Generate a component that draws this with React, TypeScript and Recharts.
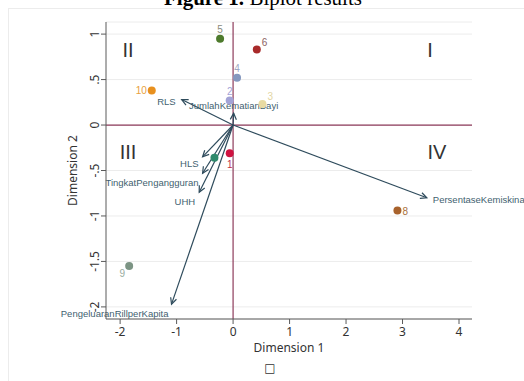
import React from 'react';
import {
  CartesianGrid,
  ReferenceLine,
  Scatter,
  ScatterChart,
  XAxis,
  YAxis,
} from 'recharts';

// observations (row points)
const obsLabels = ['1', '2', '3', '4', '5', '6', '7', '8', '9', '10'];
const obsDim1 = [-0.06, -0.06, 0.52, 0.07, -0.23, 0.42, -0.33, 2.91, -1.84, -1.44];
const obsDim2 = [-0.31, 0.27, 0.23, 0.52, 0.95, 0.83, -0.36, -0.94, -1.55, 0.38];

// variables (arrows from origin)
const varNames = [
  'RLS',
  'JumlahKematianBayi',
  'PersentaseKemiskinan',
  'HLS',
  'TingkatPengangguran',
  'UHH',
  'PengeluaranRillperKapita',
];
const varDim1 = [-0.91, 0.01, 3.43, -0.54, -0.54, -0.6, -1.09];
const varDim2 = [0.28, 0.13, -0.8, -0.35, -0.53, -0.74, -1.97];

const xTicks = [-2, -1, 0, 1, 2, 3, 4];
const yTicks = [-2, -1.5, -1, -0.5, 0, 0.5, 1];

// styling, kept apart from the values
const pointFill = ['#cf1240', '#a3a3d6', '#e8daa2', '#8598bf', '#4d7a2c', '#a82a2a', '#2f8a6c', '#a8622c', '#7c9484', '#e8901e'];
const labelFill = ['#c2304a', '#a3a3d6', '#e3d6a4', '#9ea8c4', '#8a8a7c', '#8c6262', '#2f8a6c', '#a8703c', '#9aaca0', '#e8a040'];
// [dx, dy, anchor] of each point label
const pointLabelPos: [number, number, string][] = [
  [0, 15, 'middle'],
  [0, -5, 'middle'],
  [5, -4, 'start'],
  [0, -6, 'middle'],
  [0, -6, 'middle'],
  [5, -4, 'start'],
  [0, 0, 'none'],
  [5, 4, 'start'],
  [-7, 11, 'middle'],
  [-5, 4, 'end'],
];
// [dx, dy, anchor] of each arrow label
const arrowLabelPos: [number, number, string][] = [
  [-6, 5, 'end'],
  [0, -4, 'middle'],
  [6, 5, 'start'],
  [-4, 10, 'end'],
  [-4, 13, 'end'],
  [-4, 13, 'end'],
  [-3, 13, 'end'],
];

const ARROW = '#2e4b5c';
const AXIS = '#5a5a5a';

const points = obsLabels.map((name, i) => ({ x: obsDim1[i], y: obsDim2[i], name, i }));

function formatY(v: number): string {
  if (v === 0) return '0';
  return String(v).replace('0.', '.');
}

function PointShape(props: any) {
  const { cx, cy, payload } = props;
  const i = payload.i;
  const [dx, dy, anchor] = pointLabelPos[i];
  return (
    <g>
      <circle cx={cx} cy={cy} r={4} fill={pointFill[i]} />
      {anchor !== 'none' && (
        <text x={cx + dx} y={cy + dy} textAnchor={anchor} fontSize={10} fontFamily="Liberation Sans" fill={labelFill[i]}>
          {payload.name}
        </text>
      )}
    </g>
  );
}

function arrowShape(i: number) {
  return (props: any) => {
    const { x1, y1, x2, y2 } = props;
    const angle = Math.atan2(y2 - y1, x2 - x1);
    const len = 7;
    const spread = 0.45;
    const ax = x2 - len * Math.cos(angle - spread);
    const ay = y2 - len * Math.sin(angle - spread);
    const bx = x2 - len * Math.cos(angle + spread);
    const by = y2 - len * Math.sin(angle + spread);
    const [dx, dy, anchor] = arrowLabelPos[i];
    return (
      <g>
        <line x1={x1} y1={y1} x2={x2} y2={y2} stroke={ARROW} strokeWidth={1.2} />
        <polyline points={`${ax},${ay} ${x2},${y2} ${bx},${by}`} fill="none" stroke={ARROW} strokeWidth={1.2} />
        <text x={x2 + dx} y={y2 + dy} textAnchor={anchor} fontSize={9.5} fontFamily="Liberation Sans" fill="#3f5f70">
          {varNames[i]}
        </text>
      </g>
    );
  };
}

function YTick(props: any) {
  const { x, y, payload } = props;
  const bx = x - 2;
  return (
    <text x={bx} y={y} transform={`rotate(-90, ${bx}, ${y})`} textAnchor="middle" fontSize={12} fontFamily="Noto Sans" fill="#333">
      {formatY(payload.value)}
    </text>
  );
}

export default function App() {
  return (
    <div style={{ position: 'absolute', left: 0, top: 0, width: 524, height: 381, background: '#fff', overflow: 'hidden' }}>
      <div style={{ position: 'absolute', left: 8, top: 8, width: 530, height: 390, border: '1px solid #ececec', boxSizing: 'border-box' }} />
      <div style={{ position: 'absolute', left: 0, top: 0 }}>
        <ScatterChart width={524} height={381} margin={{ top: 22, right: 52, bottom: 22, left: 61 }}>
          <CartesianGrid vertical={false} stroke="#ececec" />
          <XAxis
            type="number"
            dataKey="x"
            domain={[-2.25, 4.23]}
            ticks={xTicks}
            allowDataOverflow
            height={40}
            tickSize={5}
            tickMargin={3}
            stroke={AXIS}
            tick={{ fontSize: 12, fill: '#333', fontFamily: 'Noto Sans' }}
            label={{ value: 'Dimension 1', position: 'insideBottom', offset: 7, fontSize: 12, fill: '#333', fontFamily: 'Noto Sans' }}
          />
          <YAxis
            type="number"
            dataKey="y"
            domain={[-2.133, 1.133]}
            ticks={yTicks}
            allowDataOverflow
            width={45}
            tickSize={5}
            tickMargin={0}
            stroke={AXIS}
            tick={<YTick />}
            label={{ value: 'Dimension 2', angle: -90, position: 'insideLeft', offset: 12, fontSize: 12, fill: '#333', fontFamily: 'Noto Sans', style: { textAnchor: 'middle' } }}
          />
          <ReferenceLine x={0} stroke="#8e3b5b" strokeWidth={1.2} />
          <ReferenceLine y={0} stroke="#8e3b5b" strokeWidth={1.2} />
          {varNames.map((name, i) => (
            <ReferenceLine
              key={name}
              segment={[{ x: 0, y: 0 }, { x: varDim1[i], y: varDim2[i] }]}
              ifOverflow="visible"
              shape={arrowShape(i)}
            />
          ))}
          <Scatter data={points} shape={<PointShape />} isAnimationActive={false} />
        </ScatterChart>
      </div>
      <svg width={524} height={381} style={{ position: 'absolute', left: 0, top: 0, pointerEvents: 'none' }}>
        <text x={263} y={5} textAnchor="middle" fontSize={21} fontFamily="Liberation Serif" fill="#000">
          <tspan fontWeight="bold">Figure 1.</tspan>
          <tspan> Biplot results</tspan>
        </text>
        <g fontSize={20} fontFamily="Liberation Sans" fill="#333">
          <text x={128} y={57} textAnchor="middle">II</text>
          <text x={430} y={57} textAnchor="middle">I</text>
          <text x={128} y={159} textAnchor="middle">III</text>
          <text x={437} y={159} textAnchor="middle">IV</text>
        </g>
        <text x={270} y={372} textAnchor="middle" fontSize={12} fontFamily="DejaVu Sans" fill="#333">□</text>
      </svg>
    </div>
  );
}
